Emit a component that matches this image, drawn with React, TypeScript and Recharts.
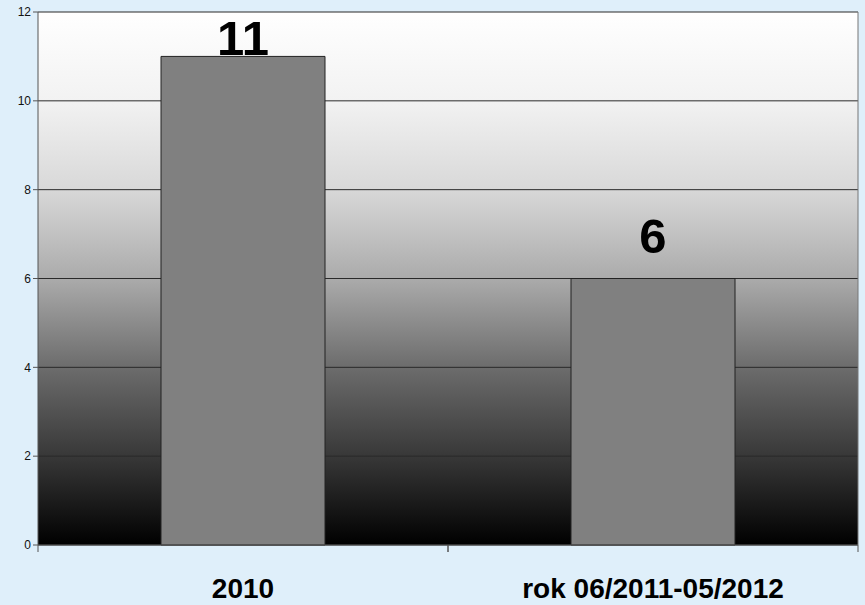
import React from 'react';
import {
    BarChart,
    Bar,
    XAxis,
    YAxis,
    CartesianGrid,
    LabelList
} from 'recharts';

const categories = ['2010', 'rok 06/2011-05/2012'];
const counts = [11, 6];
const yTicks = [0, 2, 4, 6, 8, 10, 12];

const data = categories.map((name, i) => ({ name, value: counts[i] }));

const ValueLabel = (props: any) => {
    const { x, y, width, value } = props;
    // keep the label inside the plot (Excel clamps it like this)
    const baseline = Math.max(y - 26, 55);
    return (
        <text
            x={x + width / 2}
            y={baseline}
            textAnchor="middle"
            fontFamily="Arial, 'Liberation Sans', sans-serif"
            fontWeight="bold"
            fontSize={49}
            fill="#000"
        >
            {value}
        </text>
    );
};

// category label + tick marks on the band edges (Excel style)
const CategoryTick = (props: any) => {
    const { x, y, payload } = props;
    const half = payload.offset || 0;
    const top = y - 8;
    return (
        <g>
            <line x1={x - half} y1={top} x2={x - half} y2={top + 7} stroke="#555" />
            <line x1={x + half} y1={top} x2={x + half} y2={top + 7} stroke="#555" />
            <text
                x={x}
                y={y + 45}
                textAnchor="middle"
                fontFamily="Arial, 'Liberation Sans', sans-serif"
                fontWeight="bold"
                fontSize={28}
                fill="#000"
            >
                {payload.value}
            </text>
        </g>
    );
};

export default function App() {
    return (
        <div style={{ position: 'absolute', left: 0, top: 0, width: 865, height: 605, background: '#dfeffa' }}>
            <BarChart
                width={865}
                height={605}
                data={data}
                margin={{ top: 12, right: 0, left: 0, bottom: 0 }}
            >
                <defs>
                    <linearGradient id="plotBg" x1="0" y1="0" x2="0" y2="1">
                        <stop offset="0%" stopColor="#ffffff" />
                        <stop offset="16.7%" stopColor="#f2f2f2" />
                        <stop offset="33.3%" stopColor="#d8d8d8" />
                        <stop offset="50%" stopColor="#ababab" />
                        <stop offset="66.7%" stopColor="#6c6c6c" />
                        <stop offset="83.3%" stopColor="#383838" />
                        <stop offset="100%" stopColor="#000000" />
                    </linearGradient>
                </defs>
                <CartesianGrid
                    vertical={false}
                    stroke="#2a2a2a"
                    strokeOpacity={1}
                    fill="url(#plotBg)"
                    fillOpacity={1}
                />
                <XAxis
                    dataKey="name"
                    height={60}
                    stroke="#555"
                    tickLine={false}
                    tick={<CategoryTick />}
                    interval={0}
                />
                <YAxis
                    domain={[0, 12]}
                    ticks={yTicks}
                    width={38}
                    tickSize={5}
                    stroke="#555"
                    tick={{ fill: '#111', fontSize: 12, fontFamily: 'Arial, sans-serif' }}
                    tickMargin={2}
                    interval={0}
                />
                <YAxis
                    yAxisId="right"
                    orientation="right"
                    domain={[0, 12]}
                    width={7}
                    tick={false}
                    tickLine={false}
                    stroke="#777"
                />
                <Bar
                    dataKey="value"
                    fill="#808080"
                    stroke="#222"
                    strokeWidth={1}
                    barSize={164}
                    isAnimationActive={false}
                >
                    <LabelList dataKey="value" content={<ValueLabel />} />
                </Bar>
            </BarChart>
        </div>
    );
}
